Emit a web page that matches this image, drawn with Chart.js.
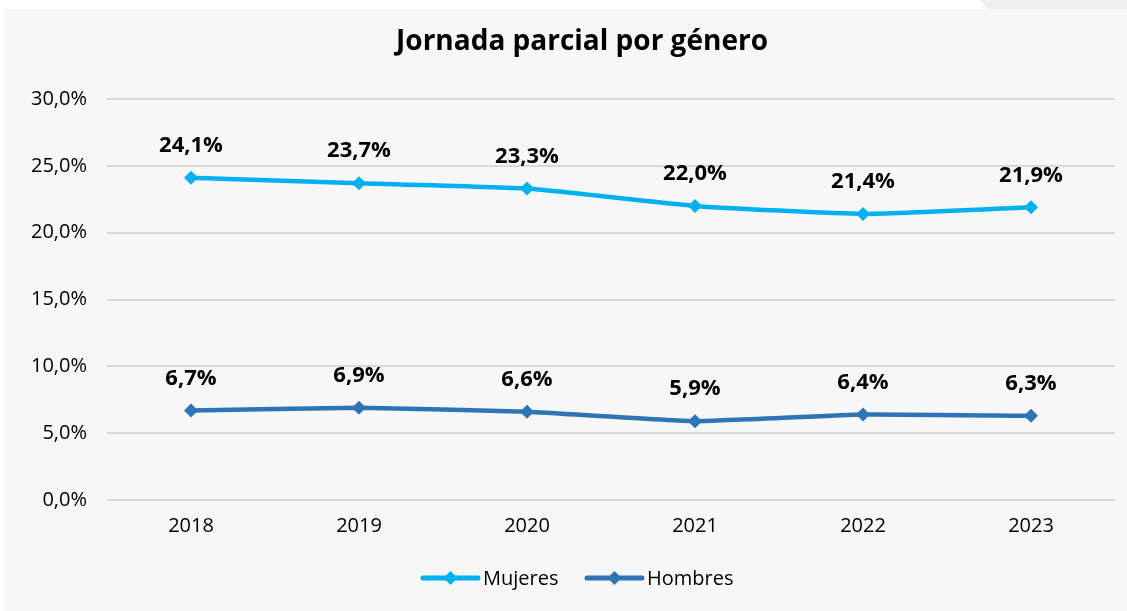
<!DOCTYPE html>
<html>
<head>
  <meta charset="UTF-8">
  <title>Jornada parcial por género</title>
  <script src="https://cdn.jsdelivr.net/npm/chart.js"></script>
  <style>
    body {
      margin: 0;
      background: #ffffff;
      width: 1127px;
      height: 611px;
      overflow: hidden;
      position: relative;
    }
    #corner {
      position: absolute;
      left: 980px;
      top: 0;
      width: 147px;
      height: 9px;
      background: #efefef;
      clip-path: polygon(0 0, 100% 0, 100% 100%, 8px 100%);
    }
    #panel {
      position: absolute;
      left: 4px;
      top: 9px;
      width: 1123px;
      height: 602px;
      background: #f7f7f7;
    }
  </style>
</head>
<body>
  <div id="corner"></div>
  <div id="panel">
    <canvas id="myChart" width="1123" height="602"></canvas>
  </div>

  <script>
    const years = ['2018', '2019', '2020', '2021', '2022', '2023'];
    const mujeres = [24.1, 23.7, 23.3, 22.0, 21.4, 21.9];
    const hombres = [6.7, 6.9, 6.6, 5.9, 6.4, 6.3];
    const seriesNames = ['Mujeres', 'Hombres'];
    const seriesColors = ['#00b0f0', '#2e75b6'];
    const titleText = 'Jornada parcial por género';

    const fmt = v => v.toFixed(1).replace('.', ',') + '%';
    const FONT = '"Open Sans", "Noto Sans", sans-serif';

    // labels above points, title and legend drawn by hand
    const extras = {
      id: 'extras',
      afterDatasetsDraw(chart) {
        const ctx = chart.ctx;
        ctx.save();
        ctx.fillStyle = '#000';
        ctx.font = 'bold 22px ' + FONT;
        ctx.textAlign = 'center';
        ctx.textBaseline = 'middle';
        chart.data.datasets.forEach((ds, i) => {
          chart.getDatasetMeta(i).data.forEach((pt, j) => {
            ctx.fillText(fmt(ds.data[j]), pt.x, pt.y - 32);
          });
        });

        ctx.font = 'bold 28px ' + FONT;
        ctx.fillText(titleText, 578, 33);

        // legend
        const legY = 569;
        const items = [{ x: 419 }, { x: 583 }];
        ctx.font = '20px ' + FONT;
        ctx.textAlign = 'left';
        items.forEach((it, i) => {
          const c = seriesColors[i];
          ctx.strokeStyle = c;
          ctx.lineWidth = 5;
          ctx.lineCap = 'round';
          ctx.beginPath();
          ctx.moveTo(it.x, legY);
          ctx.lineTo(it.x + 55, legY);
          ctx.stroke();
          ctx.fillStyle = c;
          const cx = it.x + 27.5;
          ctx.beginPath();
          ctx.moveTo(cx, legY - 7);
          ctx.lineTo(cx + 7, legY);
          ctx.lineTo(cx, legY + 7);
          ctx.lineTo(cx - 7, legY);
          ctx.closePath();
          ctx.fill();
          ctx.fillStyle = '#000';
          ctx.fillText(seriesNames[i], it.x + 60, legY + 1);
        });
        ctx.restore();
      }
    };

    const data = {
      labels: years,
      datasets: [mujeres, hombres].map((vals, i) => ({
        label: seriesNames[i],
        data: vals,
        borderColor: seriesColors[i],
        backgroundColor: seriesColors[i],
        borderWidth: 4.5,
        pointStyle: 'rectRot',
        pointRadius: 7,
        pointBorderWidth: 0,
        tension: 0.15
      }))
    };

    const options = {
      responsive: false,
      animation: false,
      layout: { padding: { left: 0, top: 90, right: 12, bottom: 0 } },
      plugins: {
        legend: { display: false },
        title: { display: false },
        tooltip: { enabled: false }
      },
      scales: {
        x: {
          offset: true,
          grid: { display: false, drawTicks: false },
          border: { display: false },
          ticks: { color: '#000', font: { size: 20, family: FONT }, padding: 14 },
          afterFit: s => { s.height = 111; }
        },
        y: {
          min: 0,
          max: 30,
          ticks: {
            stepSize: 5,
            color: '#000',
            font: { size: 20, family: FONT },
            padding: 20,
            callback: v => fmt(v)
          },
          grid: { color: '#d9d9d9', lineWidth: 2, drawTicks: false },
          border: { display: false },
          afterFit: s => { s.width = 103; }
        }
      }
    };

    const ctx = document.getElementById('myChart').getContext('2d');
    const myChart = new Chart(ctx, {
      type: 'line',
      data: data,
      options: options,
      plugins: [extras]
    });
  </script>
</body>
</html>
